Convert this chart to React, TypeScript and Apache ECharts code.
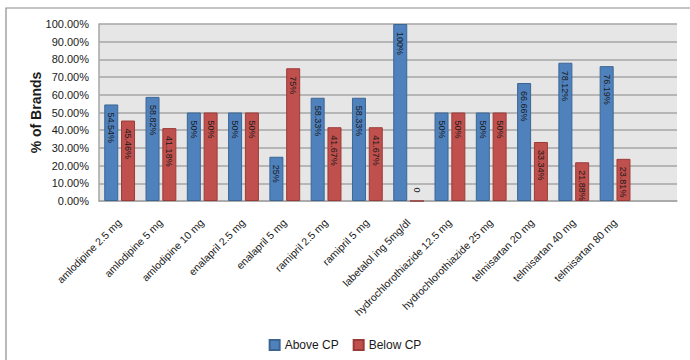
import React, { useEffect, useRef } from "react";
import * as echarts from "echarts";

const categories = [
  "amlodipine 2.5 mg",
  "amlodipine 5 mg",
  "amlodipine 10 mg",
  "enalapril 2.5 mg",
  "enalapril 5 mg",
  "ramipril 2.5 mg",
  "ramipril 5 mg",
  "labetalol ing 5mg/dl",
  "hydrochlorothiazide 12.5 mg",
  "hydrochlorothiazide 25 mg",
  "telmisartan 20 mg",
  "telmisartan 40 mg",
  "telmisartan 80 mg",
  "",
];

const aboveCP = [54.54, 58.82, 50, 50, 25, 58.33, 58.33, 100, 50, 50, 66.66, 78.12, 76.19, null];
const belowCP = [45.46, 41.18, 50, 50, 75, 41.67, 41.67, 0, 50, 50, 33.34, 21.88, 23.81, null];

const fmt = (v: number) => `${v}%`;

const FONT = "'Liberation Sans', Arial, sans-serif";

export default function App() {
  const ref = useRef<HTMLDivElement>(null);

  useEffect(() => {
    if (!ref.current) return;
    const chart = echarts.init(ref.current, null, { renderer: "svg" });

    const barLabel = {
      show: true,
      position: "insideTop" as const,
      distance: 8,
      rotate: -90,
      align: "left",
      verticalAlign: "middle",
      fontSize: 9,
      fontFamily: FONT,
      color: "#1a1a1a",
      formatter: (p: any) => (p.value === 0 ? "0" : fmt(p.value)),
    };

    const belowData = belowCP.map((v) =>
      v === 0
        ? { value: v, label: { position: "top", align: "right", distance: 8 } }
        : v
    );

    chart.setOption({
      animation: false,
      backgroundColor: "#ffffff",
      graphic: [
        {
          type: "rect",
          shape: { x: 6, y: 8, width: 700, height: 360 },
          style: { fill: "none", stroke: "#8c8c8c", lineWidth: 1.2 },
          silent: true,
          z: -10,
        },
      ],
      legend: {
        top: 334,
        left: "center",
        itemWidth: 10,
        itemHeight: 10,
        itemGap: 14,
        icon: "rect",
        textStyle: { fontSize: 12, fontFamily: FONT, color: "#1a1a1a" },
        data: ["Above CP", "Below CP"],
      },
      grid: {
        left: 99,
        right: 13,
        top: 24,
        bottom: 159,
        show: true,
        backgroundColor: "#e6e6e6",
        borderColor: "#a6a6a6",
        borderWidth: 0,
      },
      xAxis: {
        type: "category",
        data: categories,
        axisLine: { show: true, lineStyle: { color: "#a6a6a6", width: 1.5 } },
        axisTick: { show: false },
        axisLabel: {
          rotate: 45,
          interval: 0,
          fontSize: 10.5,
          fontFamily: FONT,
          color: "#1a1a1a",
          margin: 20,
        },
      },
      yAxis: {
        type: "value",
        min: 0,
        max: 100,
        interval: 10,
        name: "% of Brands",
        nameLocation: "middle",
        nameGap: 56,
        nameMoveOverlap: false,
        nameTextStyle: {
          fontSize: 14,
          fontWeight: "bold",
          fontFamily: FONT,
          color: "#1a1a1a",
        },
        axisLine: { show: true, lineStyle: { color: "#a6a6a6", width: 1.5 } },
        axisTick: { show: false },
        axisLabel: {
          formatter: (v: number) => `${v.toFixed(2)}%`,
          fontSize: 11,
          fontFamily: FONT,
          color: "#1a1a1a",
          margin: 10,
        },
        splitLine: { show: true, lineStyle: { color: "#a6a6a6", width: 1.5 } },
      },
      series: [
        {
          name: "Above CP",
          type: "bar",
          data: aboveCP,
          barWidth: 14,
          barGap: "20%",
          itemStyle: { color: "#4f81bd", borderColor: "#3b6694", borderWidth: 1 },
          label: barLabel,
        },
        {
          name: "Below CP",
          type: "bar",
          data: belowData,
          barWidth: 14,
          itemStyle: { color: "#c0504d", borderColor: "#9a3b38", borderWidth: 1 },
          label: barLabel,
        },
      ],
    });

    return () => chart.dispose();
  }, []);

  return (
    <div
      ref={ref}
      style={{ position: "fixed", left: 0, top: 0, width: 690, height: 360 }}
    />
  );
}
